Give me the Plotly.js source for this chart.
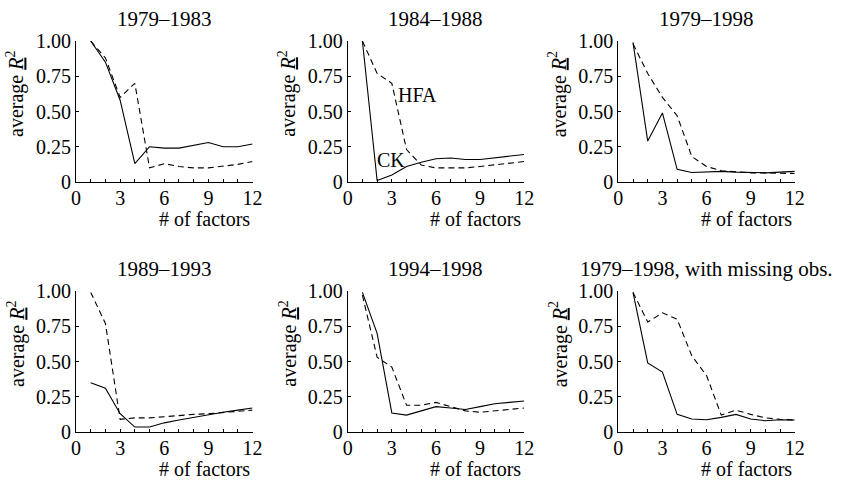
<!DOCTYPE html>
<html>
<head>
<meta charset="utf-8">
<script src="https://cdn.plot.ly/plotly-3.0.1.min.js"></script>
<style>
html,body{margin:0;padding:0;background:#fff;}
#chart{width:841px;height:480px;}
</style>
</head>
<body>
<div id="chart"></div>
<script>
// ---- data ----
const factors = [1,2,3,4,5,6,7,8,9,10,11,12];
const panelTitles = ["1979\u20131983","1984\u20131988","1979\u20131998","1989\u20131993","1994\u20131998","1979\u20131998, with missing obs."];
const ck1  = [1.00,0.85,0.58,0.13,0.25,0.24,0.24,0.26,0.28,0.25,0.25,0.27];
const hfa1 = [1.00,0.88,0.60,0.70,0.10,0.13,0.11,0.10,0.10,0.11,0.125,0.145];
const ck2  = [1.00,0.01,0.05,0.11,0.14,0.165,0.17,0.16,0.16,0.17,0.18,0.195];
const hfa2 = [1.00,0.77,0.70,0.23,0.12,0.10,0.10,0.10,0.11,0.12,0.13,0.145];
const ck3  = [0.99,0.29,0.49,0.09,0.067,0.073,0.075,0.07,0.065,0.065,0.07,0.075];
const hfa3 = [0.98,0.77,0.60,0.47,0.18,0.11,0.08,0.07,0.065,0.065,0.06,0.06];
const ck4  = [0.35,0.31,0.13,0.035,0.035,0.065,0.085,0.105,0.12,0.14,0.155,0.17];
const hfa4 = [0.99,0.77,0.09,0.10,0.10,0.11,0.12,0.125,0.13,0.14,0.145,0.155];
const ck5  = [0.99,0.70,0.135,0.12,0.15,0.18,0.17,0.16,0.18,0.20,0.21,0.22];
const hfa5 = [0.97,0.53,0.46,0.19,0.19,0.21,0.18,0.15,0.14,0.15,0.16,0.17];
const ck6  = [0.99,0.49,0.425,0.125,0.092,0.087,0.104,0.125,0.092,0.08,0.087,0.085];
const hfa6 = [0.99,0.78,0.845,0.80,0.54,0.40,0.12,0.155,0.125,0.10,0.09,0.085];
const ckSeries  = [ck1,ck2,ck3,ck4,ck5,ck6];
const hfaSeries = [hfa1,hfa2,hfa3,hfa4,hfa5,hfa6];
const xTickVals = [0,3,6,9,12];
const xTickText = ["0","3","6","9","12"];
const yTickVals = [0,0.25,0.5,0.75,1];
const yTickText = ["0","0.25","0.50","0.75","1.00"];

// ---- layout geometry (pixels) ----
const W = 841, H = 480;
const colLeft = [76, 347.7, 618.3];
const colWidth = 176.5;
const rowTop = [41, 291];
const rowHeight = 141;
const FONT = "'Liberation Serif', 'DejaVu Serif', serif";

const traces = [];
const layout = {
  width: W, height: H,
  margin: {l:0, r:0, t:0, b:0},
  paper_bgcolor: "#fff", plot_bgcolor: "#fff",
  showlegend: false,
  font: {family: FONT, size: 20, color: "#000"},
  annotations: []
};

for (let i = 0; i < 6; i++) {
  const r = Math.floor(i / 3), c = i % 3;
  const sfx = i === 0 ? "" : String(i + 1);
  const xa = "x" + sfx, ya = "y" + sfx;
  const left = colLeft[c], top = rowTop[r];
  traces.push({x: factors, y: ckSeries[i], xaxis: xa, yaxis: ya, type: "scatter", mode: "lines",
    name: "CK", line: {color: "#000", width: 1.1}, cliponaxis: false});
  traces.push({x: factors, y: hfaSeries[i], xaxis: xa, yaxis: ya, type: "scatter", mode: "lines",
    name: "HFA", line: {color: "#000", width: 1.1, dash: "6px,4px"}, cliponaxis: false});
  layout["xaxis" + sfx] = {
    domain: [left / W, (left + colWidth) / W], anchor: ya, range: [0, 12],
    showgrid: false, zeroline: false, showline: true, linecolor: "#000", linewidth: 1,
    tickmode: "array", tickvals: xTickVals, ticktext: xTickText,
    ticks: "inside", ticklen: 3, tickcolor: "#000", ticklabelstandoff: -2,
    minor: {dtick: 1, tick0: 0, ticks: "inside", ticklen: 3, tickcolor: "#000", showgrid: false},
    tickfont: {family: FONT, size: 20, color: "#000"}, fixedrange: true
  };
  layout["yaxis" + sfx] = {
    domain: [1 - (top + rowHeight) / H, 1 - top / H], anchor: xa, range: [0, 1],
    showgrid: false, zeroline: false, showline: true, linecolor: "#000", linewidth: 1,
    tickmode: "array", tickvals: yTickVals, ticktext: yTickText,
    ticks: "inside", ticklen: 3, tickcolor: "#000",
    tickfont: {family: FONT, size: 20, color: "#000"}, fixedrange: true
  };
  // panel title
  layout.annotations.push({xref: "paper", yref: "paper", x: (left + colWidth / 2) / W, y: 1 - (top - 22) / H,
    text: panelTitles[i], showarrow: false, xanchor: "center", yanchor: "middle",
    font: {family: FONT, size: 21, color: "#000"}});
  // x-axis title
  layout.annotations.push({xref: "paper", yref: "paper", x: (left + colWidth - 1) / W, y: 1 - (top + rowHeight + 37) / H,
    text: "# of factors", showarrow: false, xanchor: "right", yanchor: "middle",
    font: {family: FONT, size: 20, color: "#000"}});
  // y-axis title
  layout.annotations.push({xref: "paper", yref: "paper", x: (left - 60) / W, y: 1 - (top + 53) / H,
    text: 'average <i><span style="text-decoration:underline">R</span></i><sup>2</sup>',
    textangle: -90, showarrow: false, xanchor: "center", yanchor: "middle",
    font: {family: FONT, size: 20, color: "#000"}});
}

// series labels in the 1984-1988 panel
layout.annotations.push({xref: "x2", yref: "y2", x: 3.25, y: 0.62, text: "HFA", showarrow: false,
  xanchor: "left", yanchor: "middle", font: {family: FONT, size: 20, color: "#000"}});
layout.annotations.push({xref: "x2", yref: "y2", x: 1.85, y: 0.155, text: "CK", showarrow: false,
  xanchor: "left", yanchor: "middle", font: {family: FONT, size: 20, color: "#000"}});

Plotly.newPlot("chart", traces, layout, {staticPlot: true, displayModeBar: false});
</script>
</body>
</html>
